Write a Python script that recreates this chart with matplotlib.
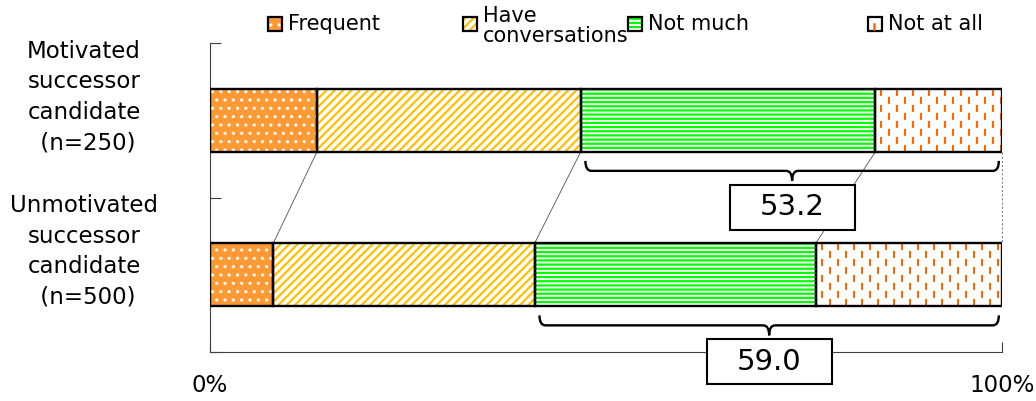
import numpy as np
import matplotlib
matplotlib.use("Agg")
import matplotlib.pyplot as plt
from matplotlib.patches import Rectangle, PathPatch
from matplotlib.path import Path
from matplotlib.collections import LineCollection
from matplotlib.lines import Line2D

# ---------------- data ----------------
categories = ["Motivated\nsuccessor\ncandidate\n (n=250)",
              "Unmotivated\nsuccessor\ncandidate\n (n=500)"]
series_names = ["Frequent", "Have\nconversations", "Not much", "Not at all"]
frequent = [13.5, 8.0]
have_conv = [33.3, 33.0]
not_much = [37.2, 35.5]
not_at_all = [16.0, 23.5]
bracket_totals = [53.2, 59.0]   # Not much + Not at all
xtick_values = [0, 100]
xtick_labels = ["0%", "100%"]

# ---------------- style ----------------
plt.rcParams["font.family"] = ["DejaVu Sans"]
plt.rcParams["lines.scale_dashes"] = False

W, H = 1036, 401
fig = plt.figure(figsize=(W / 100, H / 100), dpi=100)
ax = fig.add_axes([210 / W, 1 - 352 / H, 792 / W, 309 / H])
ax.set_xlim(0, 100)
ax.set_ylim(-0.5, 1.5)

ypos = np.array([1.0, 0.0])
bar_h = 0.41
px_y = 155.0   # pixels per y unit
px_x = 7.92    # pixels per x unit

styles = [
    dict(face="#FF9933", hatch="..", hcolor="white", hlw=1.1),
    dict(face="white", hatch="////", hcolor="#FFC000", hlw=1.6),
    dict(face="white", hatch="----", hcolor="#00FF00", hlw=1.6),
    dict(face="white", hatch=None, hcolor="#FF6600", hlw=1.0),
]
data = [np.array(frequent), np.array(have_conv), np.array(not_much), np.array(not_at_all)]


def set_hlw(p, lw):
    if hasattr(p, "set_hatch_linewidth"):
        p.set_hatch_linewidth(lw)
    else:
        p._hatch_linewidth = lw


lefts = np.zeros(2)
bounds = []
last_bars = None
for s, vals in zip(styles, data):
    with plt.rc_context({"hatch.linewidth": s["hlw"]}):
        bars = ax.barh(ypos, vals, left=lefts, height=bar_h, color=s["face"],
                       edgecolor=s["hcolor"], hatch=s["hatch"], linewidth=0, zorder=2)
    for p in bars.patches:
        set_hlw(p, s["hlw"])
    ax.barh(ypos, vals, left=lefts, height=bar_h, facecolor="none",
            edgecolor="black", linewidth=1.7, zorder=4)
    last_bars = (bars, lefts.copy(), vals)
    lefts = lefts + vals
    bounds.append(lefts.copy())

# dashed vertical pattern for "Not at all"
bars, lft, vals = last_bars
step = 8 / px_x
for i, patch in enumerate(bars.patches):
    xs = np.arange(lft[i] + step * 0.75, lft[i] + vals[i], step)
    segs = [[(x, ypos[i] + bar_h / 2), (x, ypos[i] - bar_h / 2)] for x in xs]
    lss = [(0 if k % 2 == 0 else 5.76, (5.0, 6.5)) for k in range(len(xs))]
    lc = LineCollection(segs, colors="#FF6600", linewidths=1.5, linestyles=lss, zorder=3)
    lc.set_clip_path(patch)
    ax.add_collection(lc)

# connector lines between bars
for k, b in enumerate(bounds):
    last = k == len(bounds) - 1
    ax.plot([b[0], b[1]], [ypos[0] - bar_h / 2, ypos[1] + bar_h / 2],
            color="#808080" if last else "#505050", lw=0.8 if last else 0.6,
            ls=(0, (1.5, 1.5)) if last else "-", zorder=1, clip_on=False)


def brace(x0, x1, ybar_bottom):
    yt = ybar_bottom - 9 / px_y
    ym = ybar_bottom - 19 / px_y
    yb = ybar_bottom - 29 / px_y
    r = 6 / px_x
    xm = (x0 + x1) / 2
    verts = [(x0, yt), (x0, ym), (x0 + r, ym),
             (xm - r, ym),
             (xm, ym), (xm, yb),
             (xm, ym), (xm + r, ym),
             (x1 - r, ym),
             (x1, ym), (x1, yt)]
    codes = [Path.MOVETO, Path.CURVE3, Path.CURVE3,
             Path.LINETO,
             Path.CURVE3, Path.CURVE3,
             Path.CURVE3, Path.CURVE3,
             Path.LINETO,
             Path.CURVE3, Path.CURVE3]
    ax.add_patch(PathPatch(Path(verts, codes), facecolor="none", edgecolor="black",
                           lw=1.7, zorder=5, clip_on=False))
    return xm, yb


box_w = 125 / px_x
box_h = 45 / px_y
for i, tot in enumerate(bracket_totals):
    x0 = 100 - tot + 0.6
    x1 = 100 - 0.4
    xm, yb = brace(x0, x1, ypos[i] - bar_h / 2)
    cy = yb - 4 / px_y - box_h / 2
    bx = xm
    ax.add_patch(Rectangle((bx - box_w / 2, cy - box_h / 2), box_w, box_h,
                           facecolor="white", edgecolor="black", lw=1.5,
                           zorder=6, clip_on=False))
    ax.text(bx, cy, f"{tot:.1f}", ha="center", va="center", fontsize=21,
            zorder=7, clip_on=False)

# category labels
for y, lab in zip(ypos, categories):
    ax.text(-126 / 792, y + 0.15, lab, transform=ax.get_yaxis_transform(),
            ha="center", va="center", multialignment="center", fontsize=16.5,
            linespacing=1.42)

# axes styling
for sp in ["top", "right"]:
    ax.spines[sp].set_visible(False)
for sp in ["left", "bottom"]:
    ax.spines[sp].set_color("#404040")
    ax.spines[sp].set_linewidth(0.8)
ax.set_yticks([-0.5, 0.5, 1.5])
ax.set_yticklabels([])
ax.tick_params(axis="y", direction="in", length=8, color="#404040")
ax.set_xticks(xtick_values)
ax.set_xticklabels(xtick_labels, fontsize=16.5)
ax.tick_params(axis="x", direction="in", length=7, pad=16, color="#404040")

# legend (manual)
leg_x = [268, 463, 628, 868]
for k, (name, s) in enumerate(zip(series_names, styles)):
    x0 = leg_x[k] / W
    y0 = 1 - 31 / H
    with plt.rc_context({"hatch.linewidth": s["hlw"]}):
        r = Rectangle((x0, y0), 14 / W, 14 / H, transform=fig.transFigure,
                      facecolor=s["face"], edgecolor=s["hcolor"],
                      hatch=s["hatch"], lw=0)
    set_hlw(r, s["hlw"])
    fig.add_artist(r)
    fig.add_artist(Rectangle((x0, y0), 14 / W, 14 / H, transform=fig.transFigure,
                             facecolor="none", edgecolor="black", lw=1.6))
    if s["hatch"] is None:
        fig.add_artist(Line2D([x0 + 6 / W, x0 + 6 / W], [y0 + 2 / H, y0 + 7 / H],
                              transform=fig.transFigure, color=s["hcolor"], lw=1.8))
    two = "\n" in name
    fig.text(x0 + 20 / W, 1 - (26 if two else 24) / H, name, ha="left", va="center",
             fontsize=15, linespacing=1.0)

fig.savefig("out.png", dpi=100)
